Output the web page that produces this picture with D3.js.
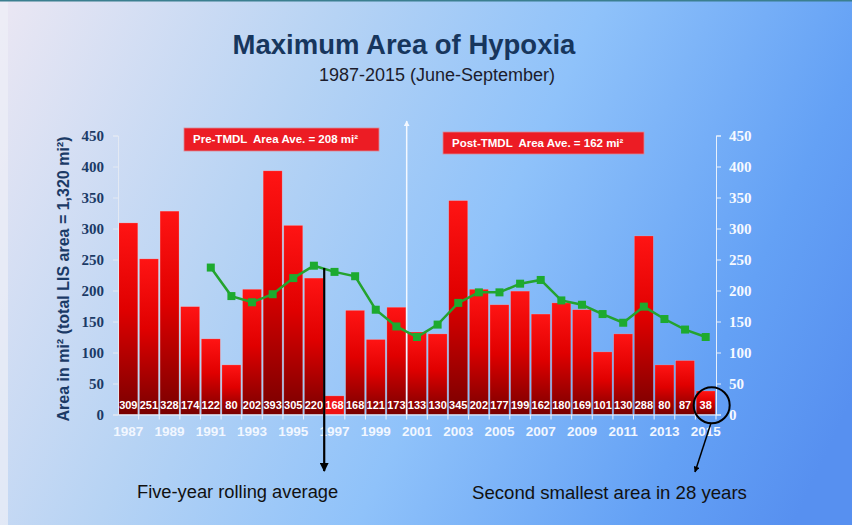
<!DOCTYPE html>
<html>
<body>
    <style>
        body, html {
            margin: 0;
            padding: 0;
            background: #fff;
        }
        svg { display: block; }
        .yax .tick text { font-family: "Liberation Serif", serif; font-weight: bold; font-size: 15px; }
        .xax .tick text { font-family: "Liberation Sans", Arial, sans-serif; font-weight: bold; font-size: 13.5px; }
    </style>

    <script src="https://d3js.org/d3.v7.min.js"></script>

    <script>
        // data
        var years = ["1987","1988","1989","1990","1991","1992","1993","1994","1995","1996",
                     "1997","1998","1999","2000","2001","2002","2003","2004","2005","2006",
                     "2007","2008","2009","2010","2011","2012","2013","2014","2015"];
        var areas = [309,251,328,174,122,80,202,393,305,220,
                     30,168,121,173,133,130,345,202,177,199,
                     162,180,169,101,130,288,80,87,38];
        // labels as printed on the bars (1997 carries "168" in the original)
        var barLabels = ["309","251","328","174","122","80","202","393","305","220",
                         "168","168","121","173","133","130","345","202","177","199",
                         "162","180","169","101","130","288","80","87","38"];
        var rollYears = ["1991","1992","1993","1994","1995","1996","1997","1998","1999","2000",
                         "2001","2002","2003","2004","2005","2006","2007","2008","2009","2010",
                         "2011","2012","2013","2014","2015"];
        var rollAvg = [237,191,181,194,220,240,230,223,169,142,
                       125,145,180,197,197,211,217,184,177,162,
                       148,174,154,137,125];
        var yTicks = [0,50,100,150,200,250,300,350,400,450];
        var xTickYears = ["1987","1989","1991","1993","1995","1997","1999","2001","2003",
                          "2005","2007","2009","2011","2013","2015"];
        var flatBars = ["1997"];

        var width = 852, height = 525;
        var navy = "#1b3a66";

        var svg = d3.select("body").append("svg")
            .attr("width", width).attr("height", height);
        var defs = svg.append("defs");

        var bg = defs.append("linearGradient").attr("id", "bg")
            .attr("gradientUnits", "userSpaceOnUse")
            .attr("x1", 0).attr("y1", 0).attr("x2", 852).attr("y2", 400);
        bg.append("stop").attr("offset", 0).attr("stop-color", "#ebe7f3");
        bg.append("stop").attr("offset", 0.33).attr("stop-color", "#b6d3f4");
        bg.append("stop").attr("offset", 0.58).attr("stop-color", "#8fc2fa");
        bg.append("stop").attr("offset", 0.85).attr("stop-color", "#64a1f5");
        bg.append("stop").attr("offset", 1).attr("stop-color", "#5790f0");

        var barGrad = defs.append("linearGradient").attr("id", "bar")
            .attr("x1", 0).attr("y1", 0).attr("x2", 0).attr("y2", 1);
        barGrad.append("stop").attr("offset", 0).attr("stop-color", "#ff1414");
        barGrad.append("stop").attr("offset", 0.45).attr("stop-color", "#e00000");
        barGrad.append("stop").attr("offset", 1).attr("stop-color", "#780000");

        function marker(id, color) {
            defs.append("marker").attr("id", id)
                .attr("viewBox", "0 0 10 10").attr("refX", 9).attr("refY", 5)
                .attr("markerWidth", 4).attr("markerHeight", 4)
                .attr("orient", "auto")
                .append("path").attr("d", "M0,0L10,5L0,10z").attr("fill", color);
        }
        marker("arrBlack", "#000");
        marker("arrWhite", "#f4f8ff");

        // BACKGROUND
        svg.append("rect").attr("width", width).attr("height", height).attr("fill", "url(#bg)");
        svg.append("rect").attr("width", 8).attr("height", height).attr("fill", "#eef0f7").attr("opacity", 0.7);
        svg.append("rect").attr("width", width).attr("height", 1.5).attr("fill", "#3b7f8f");

        // TITLES
        svg.append("text").attr("x", 404).attr("y", 54).attr("text-anchor", "middle")
            .attr("font-family", "Liberation Sans, Arial, sans-serif").attr("font-weight", "bold")
            .attr("font-size", 27.5).attr("fill", "#17365d").text("Maximum Area of Hypoxia");
        svg.append("text").attr("x", 437).attr("y", 81).attr("text-anchor", "middle")
            .attr("font-family", "Liberation Sans, Arial, sans-serif")
            .attr("font-size", 18).attr("fill", "#1c1c2c").text("1987-2015 (June-September)");

        // SCALES
        var x = d3.scaleBand().domain(years).range([118, 716]).paddingInner(0.08).paddingOuter(0.04);
        var y = d3.scaleLinear().domain([0, 450]).range([414.5, 135.5]);
        var bw = x.bandwidth();
        var gap = x.step() * x.paddingInner();
        function edge(yr) { return x(yr) - gap / 2; }

        // white divider arrow (TMDL)
        svg.append("line")
            .attr("x1", edge("2001")).attr("x2", edge("2001"))
            .attr("y1", y(0)).attr("y2", 121)
            .attr("stroke", "#f4f8ff").attr("stroke-width", 1.5)
            .attr("marker-end", "url(#arrWhite)");

        // BARS
        var data = years.map(function (d, i) { return { year: d, v: areas[i], label: barLabels[i] }; });
        svg.append("g").selectAll("rect").data(data).join("rect")
            .attr("x", function (d) { return x(d.year); })
            .attr("y", function (d) { return y(d.v); })
            .attr("width", bw)
            .attr("height", function (d) { return y(0) - y(d.v); })
            .attr("fill", function (d) { return flatBars.indexOf(d.year) >= 0 ? "#f01212" : "url(#bar)"; })
            .attr("stroke", "rgba(255,220,220,0.35)").attr("stroke-width", 0.6);

        svg.append("g").selectAll("text").data(data).join("text")
            .attr("x", function (d) { return x(d.year) + bw / 2; })
            .attr("y", 408.5)
            .attr("text-anchor", "middle")
            .attr("font-family", "Liberation Sans, Arial, sans-serif").attr("font-weight", "bold")
            .attr("font-size", 11).attr("fill", "#fff")
            .text(function (d) { return d.label; });

        // AXES
        var left = svg.append("g").attr("class", "yax").attr("transform", "translate(118,0)")
            .call(d3.axisLeft(y).tickValues(yTicks).tickSize(5).tickPadding(9));
        left.selectAll("text").attr("fill", navy);
        left.selectAll("line, path").attr("stroke", "#e3e9f3");

        var right = svg.append("g").attr("class", "yax").attr("transform", "translate(716,0)")
            .call(d3.axisRight(y).tickValues(yTicks).tickSize(5).tickPadding(8));
        right.selectAll("text").attr("fill", "#f6f9ff");
        right.selectAll("line, path").attr("stroke", "#e8f0fb");

        var bottom = svg.append("g").attr("class", "xax").attr("transform", "translate(0," + y(0) + ")")
            .call(d3.axisBottom(x).tickValues(xTickYears).tickSize(0).tickPadding(12));
        bottom.select(".domain").attr("stroke", "#eef3fb").attr("stroke-width", 1.2);
        bottom.selectAll("text").attr("fill", "#f2f7ff");

        svg.append("g").selectAll("line").data(years.slice(1).concat(["end"])).join("line")
            .attr("x1", function (d) { return d === "end" ? 716 : edge(d); })
            .attr("x2", function (d) { return d === "end" ? 716 : edge(d); })
            .attr("y1", y(0)).attr("y2", y(0) + 5)
            .attr("stroke", "#eef3fb").attr("stroke-width", 1);

        // Y TITLE
        svg.append("text")
            .attr("transform", "translate(69,279) rotate(-90)")
            .attr("text-anchor", "middle")
            .attr("font-family", "Liberation Sans, Arial, sans-serif").attr("font-weight", "bold")
            .attr("font-size", 16).attr("fill", navy)
            .text("Area in mi² (total LIS area = 1,320 mi²)");

        // ROLLING AVERAGE
        var roll = rollYears.map(function (d, i) { return { year: d, v: rollAvg[i] }; });
        var line = d3.line()
            .x(function (d) { return x(d.year) + bw / 2; })
            .y(function (d) { return y(d.v); });
        svg.append("path").datum(roll).attr("d", line)
            .attr("fill", "none").attr("stroke", "#24a32e").attr("stroke-width", 2.5);
        svg.append("g").selectAll("rect").data(roll).join("rect")
            .attr("x", function (d) { return x(d.year) + bw / 2 - 4; })
            .attr("y", function (d) { return y(d.v) - 4; })
            .attr("width", 8).attr("height", 8)
            .attr("fill", "#1daa2f");

        // LEGEND BOXES
        function box(x0, y0, w, h, label) {
            svg.append("rect").attr("x", x0).attr("y", y0).attr("width", w).attr("height", h)
                .attr("fill", "#ec1c24").attr("stroke", "#d98a96").attr("stroke-width", 0.8);
            svg.append("text").attr("x", x0 + 9).attr("y", y0 + 15)
                .attr("font-family", "Liberation Sans, Arial, sans-serif").attr("font-weight", "bold")
                .attr("font-size", 11.5).attr("fill", "#fff").attr("xml:space", "preserve")
                .text(label);
        }
        box(184, 128, 195, 23, "Pre-TMDL  Area Ave. = 208 mi²");
        box(443, 132, 201, 22, "Post-TMDL  Area Ave. = 162 mi²");

        // ANNOTATIONS
        svg.append("line")
            .attr("x1", edge("1997")).attr("x2", edge("1997"))
            .attr("y1", 268).attr("y2", 471)
            .attr("stroke", "#000").attr("stroke-width", 2.2)
            .attr("marker-end", "url(#arrBlack)");

        svg.append("circle")
            .attr("cx", x("2015") + bw / 2 + 6).attr("cy", y(15)).attr("r", 18)
            .attr("fill", "none").attr("stroke", "#000").attr("stroke-width", 2);
        svg.append("line")
            .attr("x1", 711).attr("y1", 423).attr("x2", 695).attr("y2", 472)
            .attr("stroke", "#000").attr("stroke-width", 1.5)
            .attr("marker-end", "url(#arrBlack)");

        svg.append("text").attr("x", 137).attr("y", 498)
            .attr("font-family", "Liberation Sans, Arial, sans-serif")
            .attr("font-size", 18.3).attr("fill", "#111").text("Five-year rolling average");
        svg.append("text").attr("x", 472).attr("y", 499)
            .attr("font-family", "Liberation Sans, Arial, sans-serif")
            .attr("font-size", 18.6).attr("fill", "#111").text("Second smallest area in 28 years");
    </script>
</body>
</html>
